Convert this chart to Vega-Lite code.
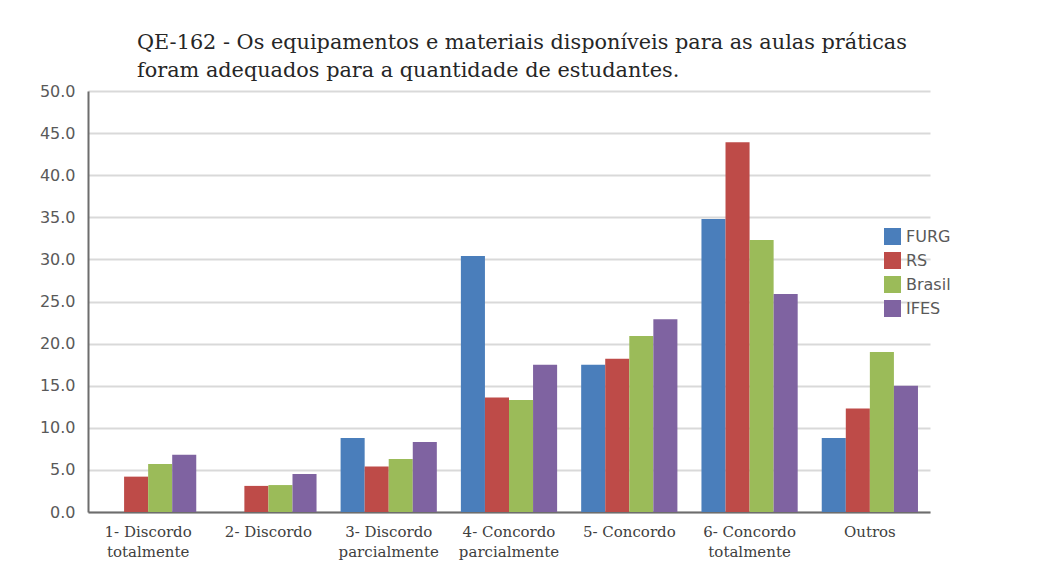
{
  "$schema": "https://vega.github.io/schema/vega-lite/v6.json",
  "autosize": {"type": "none"},
  "padding": {"left": 88, "top": 91, "right": 115, "bottom": 60},
  "width": 842,
  "height": 421,
  "background": "white",
  "title": {
    "text": ["QE-162 - Os equipamentos e materiais disponíveis para as aulas práticas", "foram adequados para a quantidade de estudantes."],
    "anchor": "start",
    "frame": "group",
    "dx": 49,
    "offset": 1,
    "font": "DejaVu Serif",
    "fontSize": 20.8,
    "fontWeight": "normal",
    "lineHeight": 28,
    "color": "#262626"
  },
  "data": {
    "values": [
      {"categoria": "1- Discordo totalmente", "serie": "FURG", "valor": 0},
      {"categoria": "1- Discordo totalmente", "serie": "RS", "valor": 4.2},
      {"categoria": "1- Discordo totalmente", "serie": "Brasil", "valor": 5.7},
      {"categoria": "1- Discordo totalmente", "serie": "IFES", "valor": 6.8},
      {"categoria": "2- Discordo", "serie": "FURG", "valor": 0},
      {"categoria": "2- Discordo", "serie": "RS", "valor": 3.1},
      {"categoria": "2- Discordo", "serie": "Brasil", "valor": 3.2},
      {"categoria": "2- Discordo", "serie": "IFES", "valor": 4.5},
      {"categoria": "3- Discordo parcialmente", "serie": "FURG", "valor": 8.8},
      {"categoria": "3- Discordo parcialmente", "serie": "RS", "valor": 5.4},
      {"categoria": "3- Discordo parcialmente", "serie": "Brasil", "valor": 6.3},
      {"categoria": "3- Discordo parcialmente", "serie": "IFES", "valor": 8.3},
      {"categoria": "4- Concordo parcialmente", "serie": "FURG", "valor": 30.4},
      {"categoria": "4- Concordo parcialmente", "serie": "RS", "valor": 13.6},
      {"categoria": "4- Concordo parcialmente", "serie": "Brasil", "valor": 13.3},
      {"categoria": "4- Concordo parcialmente", "serie": "IFES", "valor": 17.5},
      {"categoria": "5- Concordo", "serie": "FURG", "valor": 17.5},
      {"categoria": "5- Concordo", "serie": "RS", "valor": 18.2},
      {"categoria": "5- Concordo", "serie": "Brasil", "valor": 20.9},
      {"categoria": "5- Concordo", "serie": "IFES", "valor": 22.9},
      {"categoria": "6- Concordo totalmente", "serie": "FURG", "valor": 34.8},
      {"categoria": "6- Concordo totalmente", "serie": "RS", "valor": 43.9},
      {"categoria": "6- Concordo totalmente", "serie": "Brasil", "valor": 32.3},
      {"categoria": "6- Concordo totalmente", "serie": "IFES", "valor": 25.9},
      {"categoria": "Outros", "serie": "FURG", "valor": 8.8},
      {"categoria": "Outros", "serie": "RS", "valor": 12.3},
      {"categoria": "Outros", "serie": "Brasil", "valor": 19.0},
      {"categoria": "Outros", "serie": "IFES", "valor": 15.0}
    ]
  },
  "mark": {"type": "bar"},
  "encoding": {
    "x": {
      "field": "categoria",
      "type": "nominal",
      "sort": null,
      "scale": {"paddingInner": 0.2, "paddingOuter": 0.1},
      "axis": {
        "title": null,
        "labelAngle": 0,
        "ticks": false,
        "labelPadding": 12,
        "labelFont": "DejaVu Serif",
        "labelFontSize": 15,
        "labelLineHeight": 20,
        "labelColor": "#404040",
        "labelBaseline": "top",
        "domainColor": "#6d6d6d",
        "domainWidth": 2,
        "grid": false,
        "labelExpr": "length(split(datum.label,' '))>2 ? [join(slice(split(datum.label,' '),0,2),' '), join(slice(split(datum.label,' '),2),' ')] : datum.label"
      }
    },
    "xOffset": {
      "field": "serie",
      "type": "nominal",
      "sort": ["FURG", "RS", "Brasil", "IFES"]
    },
    "y": {
      "field": "valor",
      "type": "quantitative",
      "scale": {"domain": [0, 50], "nice": false},
      "axis": {
        "title": null,
        "values": [0, 5, 10, 15, 20, 25, 30, 35, 40, 45, 50],
        "format": ".1f",
        "ticks": false,
        "labelPadding": 13,
        "labelFont": "DejaVu Sans",
        "labelFontSize": 16,
        "labelColor": "#595959",
        "domainColor": "#6d6d6d",
        "domainWidth": 2,
        "gridColor": "#d9d9d9",
        "gridWidth": 2
      }
    },
    "color": {
      "field": "serie",
      "type": "nominal",
      "sort": ["FURG", "RS", "Brasil", "IFES"],
      "scale": {
        "domain": ["FURG", "RS", "Brasil", "IFES"],
        "range": ["#4a7ebb", "#be4b48", "#9bbb59", "#7f63a1"]
      },
      "legend": {
        "title": null,
        "orient": "none",
        "legendX": 796,
        "legendY": 137,
        "symbolType": "square",
        "symbolSize": 289,
        "symbolStrokeWidth": 0,
        "labelFont": "DejaVu Sans",
        "labelFontSize": 16,
        "labelColor": "#595959",
        "labelOffset": 5,
        "rowPadding": 7
      }
    }
  },
  "config": {
    "view": {"stroke": null}
  }
}
